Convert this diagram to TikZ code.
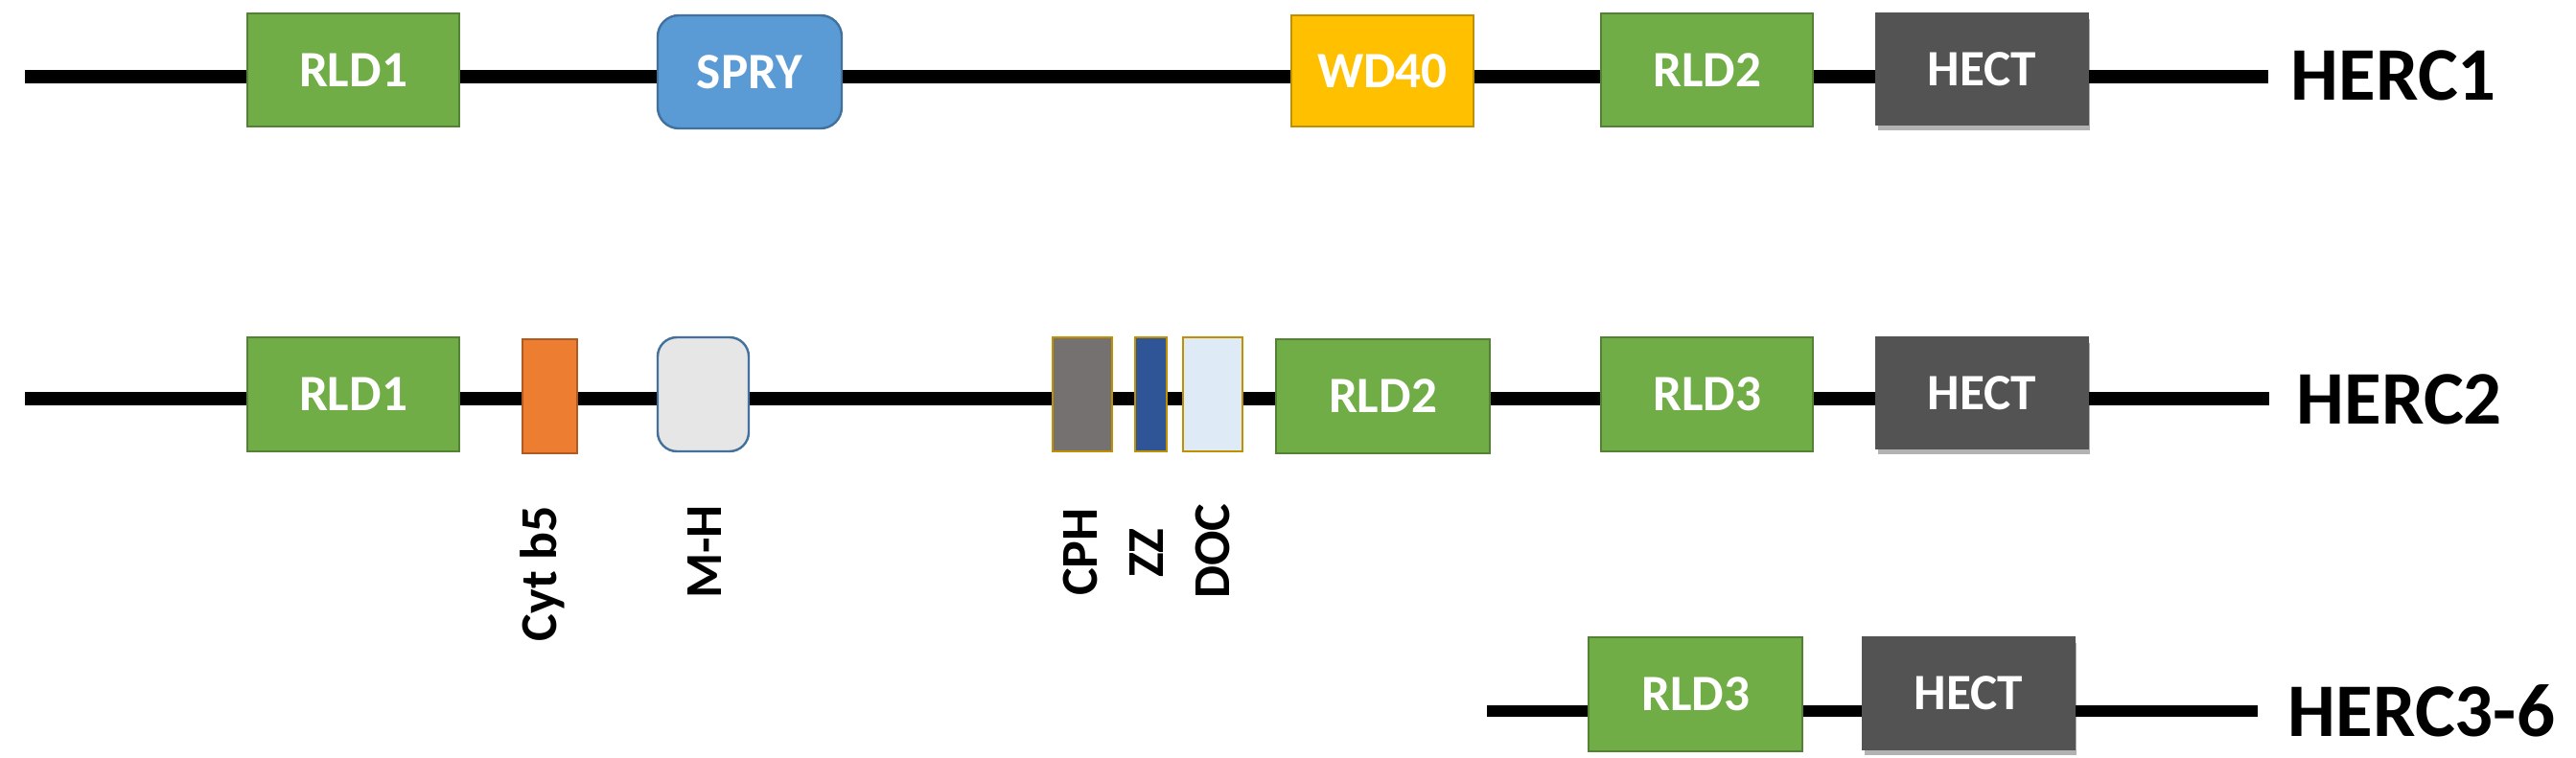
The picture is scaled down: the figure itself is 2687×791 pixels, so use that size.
\documentclass[tikz,border=0pt]{standalone}
\usepackage{fontspec}
\setmainfont{Carlito}
\usetikzlibrary{shadows}
\definecolor{gfill}{HTML}{70AD47}
\definecolor{gline}{HTML}{548235}
\definecolor{bfill}{HTML}{5B9BD5}
\definecolor{bline}{HTML}{41719C}
\definecolor{yfill}{HTML}{FFC000}
\definecolor{yline}{HTML}{BF9000}
\definecolor{hfill}{HTML}{535353}
\definecolor{ofill}{HTML}{ED7D31}
\definecolor{oline}{HTML}{AE5A21}
\definecolor{mhfill}{HTML}{E7E6E6}
\definecolor{cphfill}{HTML}{767171}
\definecolor{zzfill}{HTML}{2F5597}
\definecolor{docfill}{HTML}{DEEBF7}
\begin{document}
\begin{tikzpicture}[x=0.25pt,y=-0.25pt,
  dims/.style 2 args={minimum width=#1*0.25pt, minimum height=#2*0.25pt},
  dom/.style={draw, line width=0.6pt, inner sep=0pt, text=white,
    font=\bfseries\fontsize{13.3}{14}\selectfont},
  gbox/.style={dom, fill=gfill, draw=gline},
  hbox/.style={dom, fill=hfill, draw=hfill,
    drop shadow={shadow xshift=0.6pt, shadow yshift=-1.6pt, opacity=0.3, fill=black}},
  sbox/.style={dom, draw=yline},
  bb/.style={line width=3.5pt, black},
  bbs/.style={line width=3pt, black},
  protlabel/.style={font=\bfseries\fontsize{19.75}{20}\selectfont, anchor=base west, inner sep=0pt},
  vlab/.style={font=\bfseries\fontsize{13.5}{14}\selectfont, rotate=90, anchor=base, inner sep=0pt}
]
\useasboundingbox (0,0) rectangle (2687,791);

% ---------- HERC1 ----------
\coordinate (s1) at (26,80);
\coordinate (e1) at (2366,80);
\node[gbox, dims={221}{118}] (a1) at (368.5,73) {RLD1};
\node[dom, fill=bfill, draw=bline, rounded corners=5.5pt, dims={192}{118}] (a2) at (782,75) {SPRY};
\node[dom, fill=yfill, draw=yline, dims={190}{116}] (a3) at (1442,74) {WD40};
\node[gbox, dims={221}{118}] (a4) at (1780.5,73) {RLD2};
\node[hbox, dims={221}{116}] (a5) at (2067.5,72) {HECT};
\node[protlabel] (n1) at (2389,105) {HERC1};
\draw[bb] (s1) -- (a1.west |- s1);
\draw[bb] (a1.east |- s1) -- (a2.west |- s1);
\draw[bb] (a2.east |- s1) -- (a3.west |- s1);
\draw[bb] (a3.east |- s1) -- (a4.west |- s1);
\draw[bb] (a4.east |- s1) -- (a5.west |- s1);
\draw[bb] (a5.east |- s1) -- (e1);

% ---------- HERC2 ----------
\coordinate (s2) at (26,416);
\coordinate (e2) at (2367,416);
\node[gbox, dims={221}{119}] (b1) at (368.5,411.5) {RLD1};
\node[dom, fill=ofill, draw=oline, dims={57}{119}] (b2) at (573.5,413.5) {};
\node[dom, fill=mhfill, draw=bline, rounded corners=5pt, dims={95}{119}] (b3) at (733.5,411.5) {};
\node[sbox, fill=cphfill, dims={62}{119}] (b4) at (1129,411.5) {};
\node[sbox, fill=zzfill, dims={33}{119}] (b5) at (1200.5,411.5) {};
\node[sbox, fill=docfill, dims={62}{119}] (b6) at (1265,411.5) {};
\node[gbox, dims={223}{119}] (b7) at (1442.5,413.5) {RLD2};
\node[gbox, dims={221}{119}] (b8) at (1780.5,411.5) {RLD3};
\node[hbox, dims={221}{116}] (b9) at (2067.5,410) {HECT};
\node[protlabel] (n2) at (2395,442) {HERC2};
\draw[bb] (s2) -- (b1.west |- s2);
\draw[bb] (b1.east |- s2) -- (b2.west |- s2);
\draw[bb] (b2.east |- s2) -- (b3.west |- s2);
\draw[bb] (b3.east |- s2) -- (b4.west |- s2);
\draw[bb] (b4.east |- s2) -- (b5.west |- s2);
\draw[bb] (b5.east |- s2) -- (b6.west |- s2);
\draw[bb] (b6.east |- s2) -- (b7.west |- s2);
\draw[bb] (b7.east |- s2) -- (b8.west |- s2);
\draw[bb] (b8.east |- s2) -- (b9.west |- s2);
\draw[bb] (b9.east |- s2) -- (e2);

\node[vlab] (l2) at (580,598.5) {Cyt b5};
\node[vlab] (l3) at (752,576) {M-H};
\node[vlab] (l4) at (1144,576) {CPH};
\node[vlab] (l5) at (1213,577) {ZZ};
\node[vlab] (l6) at (1282,575) {DOC};

% ---------- HERC3-6 ----------
\coordinate (s3) at (1551,742);
\coordinate (e3) at (2355,742);
\node[gbox, dims={223}{119}] (c1) at (1768.5,724.5) {RLD3};
\node[hbox, dims={221}{117}] (c2) at (2053.5,723.5) {HECT};
\node[protlabel] (n3) at (2386,768) {HERC3-6};
\draw[bbs] (s3) -- (c1.west |- s3);
\draw[bbs] (c1.east |- s3) -- (c2.west |- s3);
\draw[bbs] (c2.east |- s3) -- (e3);
\end{tikzpicture}
\end{document}
